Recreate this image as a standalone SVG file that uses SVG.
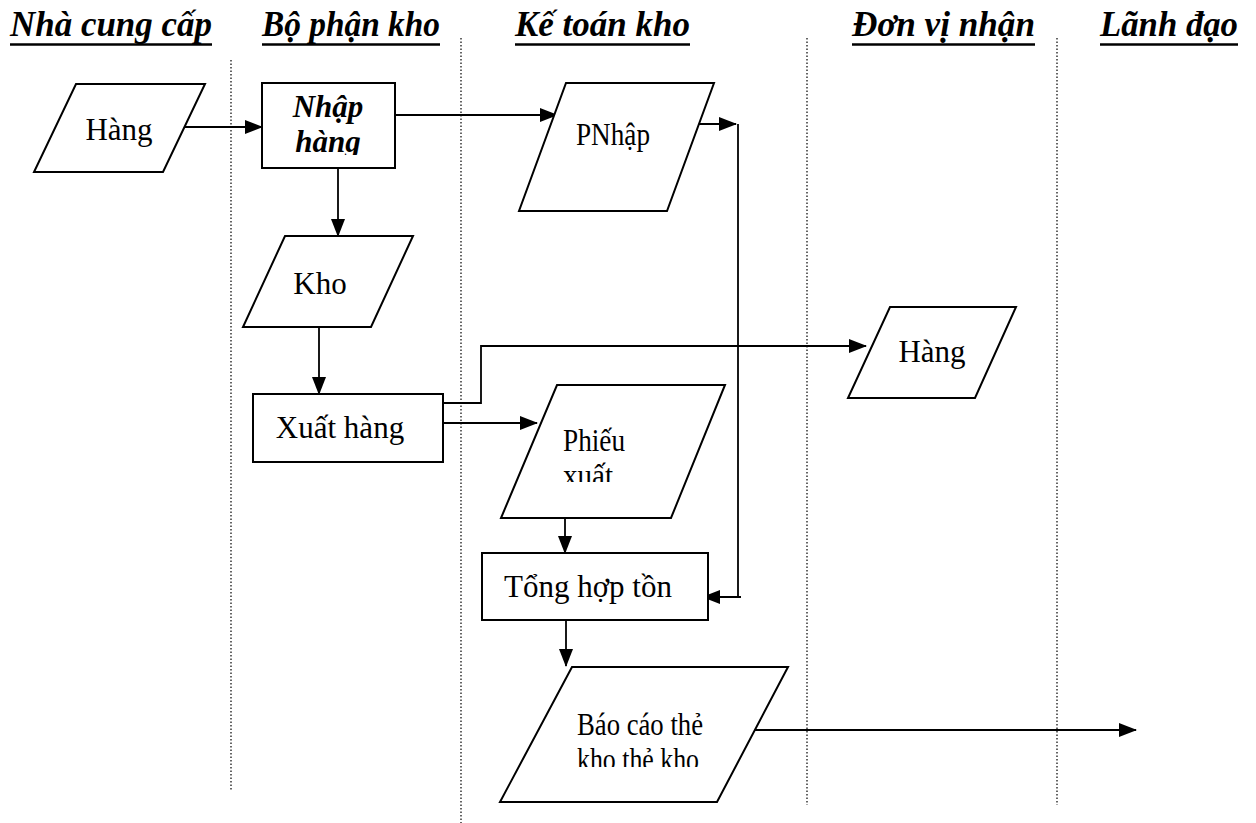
<svg xmlns="http://www.w3.org/2000/svg" width="1256" height="823" viewBox="0 0 1256 823">
<style>
.hdr{font-family:"Liberation Serif","Times New Roman",serif;font-weight:bold;font-style:italic;font-size:36px;fill:#000}
.ul{stroke:#000;stroke-width:2.6}
.t{font-family:"Liberation Serif","Times New Roman",serif;font-size:31px;fill:#000}
.tc{font-family:"Liberation Serif","Times New Roman",serif;font-size:31px;fill:#000}
.tb{font-family:"Liberation Serif","Times New Roman",serif;font-size:31px;font-weight:bold;font-style:italic;fill:#000}
.shape{fill:#fff;stroke:#000;stroke-width:2}
.lane{stroke:#000;stroke-width:1.2;stroke-dasharray:1.5,2;fill:none}
.c{stroke:#000;stroke-width:1.8;fill:none}
</style>
<defs>
<marker id="ah" markerUnits="userSpaceOnUse" markerWidth="18" markerHeight="14" refX="17" refY="7" orient="auto">
<path d="M0,0 L18,7 L0,14 Z" fill="#000"/>
</marker>
<clipPath id="clipN"><rect x="262" y="83" width="134" height="72"/></clipPath>
<clipPath id="clipP"><rect x="500" y="385" width="225" height="97"/></clipPath>
<clipPath id="clipB"><rect x="500" y="667" width="290" height="100"/></clipPath>
</defs>
<rect width="1256" height="823" fill="#fff"/>
<g id="headers">
<text class="hdr" x="10" y="36" textLength="202" lengthAdjust="spacingAndGlyphs">Nhà cung cấp</text>
<line class="ul" x1="10" y1="44.5" x2="212" y2="44.5"/>
<text class="hdr" x="262" y="36" textLength="178" lengthAdjust="spacingAndGlyphs">Bộ phận kho</text>
<line class="ul" x1="262" y1="44.5" x2="440" y2="44.5"/>
<text class="hdr" x="515" y="36" textLength="175" lengthAdjust="spacingAndGlyphs">Kế toán kho</text>
<line class="ul" x1="515" y1="44.5" x2="690" y2="44.5"/>
<text class="hdr" x="852" y="36" textLength="183" lengthAdjust="spacingAndGlyphs">Đơn vị nhận</text>
<line class="ul" x1="852" y1="44.5" x2="1035" y2="44.5"/>
<text class="hdr" x="1100" y="36" textLength="138" lengthAdjust="spacingAndGlyphs">Lãnh đạo</text>
<line class="ul" x1="1100" y1="44.5" x2="1238" y2="44.5"/>
</g>
<g id="lanes">
<line class="lane" x1="231" y1="60" x2="231" y2="790"/>
<line class="lane" x1="461" y1="38" x2="461" y2="823"/>
<line class="lane" x1="807" y1="38" x2="807" y2="805"/>
<line class="lane" x1="1057" y1="38" x2="1057" y2="805"/>
</g>
<g id="connectors">
<line class="c" x1="185" y1="127" x2="262" y2="127" marker-end="url(#ah)"/>
<line class="c" x1="385" y1="115" x2="557" y2="115" marker-end="url(#ah)"/>
<line class="c" x1="338" y1="168" x2="338" y2="236" marker-end="url(#ah)"/>
<line class="c" x1="697" y1="124" x2="736" y2="124" marker-end="url(#ah)"/>
<line class="c" x1="738" y1="124" x2="738" y2="598"/>
<line class="c" x1="741" y1="597" x2="703" y2="597" marker-end="url(#ah)"/>
<line class="c" x1="319" y1="327" x2="319" y2="394" marker-end="url(#ah)"/>
<polyline class="c" points="443,403 481,403 481,346 866,346" marker-end="url(#ah)"/>
<line class="c" x1="443" y1="423" x2="537" y2="423" marker-end="url(#ah)"/>
<line class="c" x1="565" y1="518" x2="565" y2="553" marker-end="url(#ah)"/>
<line class="c" x1="566" y1="620" x2="566" y2="666" marker-end="url(#ah)"/>
<line class="c" x1="750" y1="730" x2="1136" y2="730" marker-end="url(#ah)"/>
</g>
<g id="hang1">
<polygon class="shape" points="76,84 205,84 163,172 34,172"/>
<text class="t" x="119" y="140" text-anchor="middle">Hàng</text>
</g>
<g id="nhaphang">
<rect class="shape" x="262" y="83" width="133" height="85"/>
<g clip-path="url(#clipN)">
<text class="tb" x="328" y="117" text-anchor="middle">Nhập</text>
<text class="tb" x="328" y="152" text-anchor="middle">hàng</text>
</g>
</g>
<g id="pnhap">
<polygon class="shape" points="566,83 714,83 667,211 519,211"/>
<text class="tc" x="576" y="145" textLength="74" lengthAdjust="spacingAndGlyphs">PNhập</text>
</g>
<g id="kho">
<polygon class="shape" points="285,236 413,236 371,327 243,327"/>
<text class="t" x="320" y="294" text-anchor="middle">Kho</text>
</g>
<g id="xuathang">
<rect class="shape" x="253" y="394" width="190" height="68"/>
<text class="t" x="340" y="438" text-anchor="middle">Xuất hàng</text>
</g>
<g id="hang2">
<polygon class="shape" points="890,307 1016,307 975,398 848,398"/>
<text class="t" x="932" y="362" text-anchor="middle">Hàng</text>
</g>
<g id="phieuxuat">
<polygon class="shape" points="557,385 725,385 671,518 501,518"/>
<g clip-path="url(#clipP)">
<text class="tc" x="563" y="451" textLength="62" lengthAdjust="spacingAndGlyphs">Phiếu</text>
<text class="tc" x="563" y="486" textLength="50" lengthAdjust="spacingAndGlyphs">xuất</text>
</g>
</g>
<g id="tonghop">
<rect class="shape" x="482" y="553" width="226" height="67"/>
<text class="t" x="588" y="597" text-anchor="middle">Tổng hợp tồn</text>
</g>
<g id="baocao">
<polygon class="shape" points="572,667 788,667 717,802 500,802"/>
<g clip-path="url(#clipB)">
<text class="tc" x="577" y="735" textLength="126" lengthAdjust="spacingAndGlyphs">Báo cáo thẻ</text>
<text class="tc" x="577" y="770" textLength="122" lengthAdjust="spacingAndGlyphs">kho thẻ kho</text>
</g>
</g>
</svg>
